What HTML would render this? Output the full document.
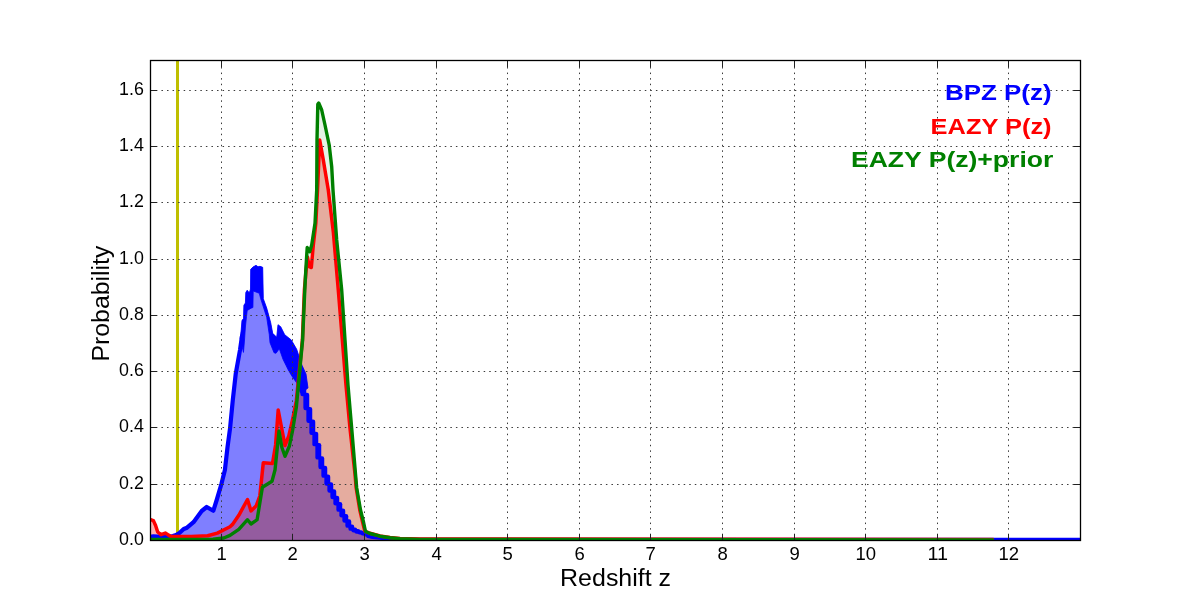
<!DOCTYPE html>
<html><head><meta charset="utf-8"><style>
html,body{margin:0;padding:0;background:#fff;}
svg{display:block;will-change:transform;}
text{font-family:"Liberation Sans",sans-serif;}
.t{opacity:0.999;}
</style></head><body>
<svg width="1200" height="600" viewBox="0 0 1200 600">
<defs><clipPath id="ax"><rect x="150" y="60" width="930" height="480.5"/></clipPath></defs>
<rect x="0" y="0" width="1200" height="600" fill="#fff"/>
<g clip-path="url(#ax)">
<line x1="177.5" y1="60" x2="177.5" y2="540" stroke="#bfbf00" stroke-width="3"/>
<path d="M150.0,537.0 L153.4,536.3 L158.0,536.5 L164.2,537.0 L168.0,536.5 L172.9,536.0 L176.0,535.0 L179.4,533.0 L183.7,529.0 L187.0,527.7 L193.5,522.2 L201.7,511.0 L206.7,507.0 L213.3,510.8 L216.7,500.0 L221.4,484.0 L224.9,470.0 L227.5,447.3 L230.1,428.0 L232.8,400.0 L235.8,373.3 L240.0,350.0 L240.2,338.0 L241.2,330.0 L242.0,320.2 L243.5,318.8 L243.9,305.2 L245.4,303.0 L245.8,292.5 L247.2,290.2 L249.3,293.0 L250.5,289.0 L250.7,269.3 L253.0,267.0 L256.0,265.3 L258.0,266.8 L260.0,266.3 L262.7,267.3 L263.3,298.7 L266.7,308.0 L270.7,322.7 L272.7,333.3 L276.7,337.3 L278.0,324.7 L280.7,326.7 L284.7,334.7 L291.3,340.0 L296.7,349.3 L302.0,365.3 L306.0,374.0 L308.0,388.0 L304.3,392.0 L306.5,403.0 L310.3,419.3 L313.7,433.0 L316.5,443.0 L318.5,454.0 L322.0,464.5 L323.5,470.0 L328.0,482.0 L331.3,490.0 L336.0,500.0 L341.2,511.0 L345.6,519.0 L350.3,527.0 L352.5,529.0 L358.0,531.8 L363.5,533.2 L372.0,536.6 L372.5,537.2 L385.0,538.5 L420.0,539.5 L1082.0,539.5 L1082.0,540.5 L150.0,540.5 Z" fill="#0000ff" fill-opacity="0.5"/>
<path d="M150.0,519.5 L153.4,520.6 L155.6,525.5 L157.7,532.0 L161.0,534.7 L165.3,533.1 L168.0,534.7 L170.7,536.5 L191.3,536.5 L207.6,535.8 L217.3,533.1 L226.0,528.7 L230.0,526.7 L232.5,524.4 L238.8,515.3 L247.5,499.5 L251.0,510.9 L256.3,505.7 L259.8,496.0 L263.3,462.8 L272.5,463.5 L275.6,445.0 L278.2,410.0 L281.3,426.3 L285.0,445.6 L288.8,436.0 L292.5,420.0 L296.3,401.0 L302.4,340.0 L304.4,290.0 L305.8,273.3 L307.5,257.0 L309.2,266.7 L311.3,267.5 L313.3,245.0 L315.8,223.3 L317.5,190.0 L319.7,140.0 L323.3,160.0 L328.3,190.0 L333.3,231.7 L338.3,290.0 L346.0,385.0 L350.0,428.3 L355.0,474.0 L356.2,488.0 L359.8,510.0 L362.6,522.0 L364.8,531.0 L370.0,533.3 L380.0,536.0 L390.0,537.6 L400.0,538.5 L420.0,539.0 L993.7,539.4 L993.7,540.5 L150.0,540.5 Z" fill="#ff0000" fill-opacity="0.3"/>
<path d="M150.0,539.5 L213.0,539.3 L223.8,538.0 L230.0,535.4 L238.8,529.3 L247.5,519.7 L251.0,524.0 L257.1,519.7 L262.4,487.3 L272.0,481.2 L275.0,470.0 L279.0,431.0 L281.9,447.5 L285.0,456.3 L289.4,446.0 L292.5,431.0 L296.3,407.5 L302.6,340.0 L304.8,290.0 L305.8,270.0 L307.2,247.5 L309.7,251.7 L311.7,245.0 L315.0,223.3 L316.7,190.0 L317.0,140.0 L317.8,104.2 L318.7,103.0 L321.7,110.0 L325.0,125.0 L329.2,145.0 L331.7,166.7 L333.0,190.0 L336.7,240.0 L341.7,290.0 L348.0,385.0 L351.7,428.3 L355.5,474.0 L356.7,488.0 L360.5,510.0 L363.5,522.0 L365.5,531.5 L370.0,533.5 L380.0,536.2 L390.0,537.8 L400.0,538.8 L420.0,539.5 L993.7,539.9 L993.7,540.5 L150.0,540.5 Z" fill="#008000" fill-opacity="0.1"/>
<g fill="none" stroke-linejoin="round" stroke-linecap="round">
<path d="M150.0,537.0 L153.4,536.3 L158.0,536.5 L164.2,537.0 L168.0,536.5 L172.9,536.0 L176.0,535.0 L179.4,533.0 L183.7,529.0 L187.0,527.7 L193.5,522.2 L201.7,511.0 L206.7,507.0 L213.3,510.8 L216.7,500.0 L221.4,484.0 L224.9,470.0 L227.5,447.3 L230.1,428.0 L232.8,400.0 L235.8,373.3 L240.0,350.0 L242.0,336.0" stroke="#0000ff" stroke-width="4.2"/>
<path d="M240.2,338.0 L241.2,330.0 L242.0,320.2 L243.5,318.8 L243.9,305.2 L245.4,303.0 L245.8,292.5 L247.2,290.2 L249.3,293.0 L250.5,289.0 L250.7,269.3 L253.0,267.0 L256.0,265.3 L258.0,266.8 L260.0,266.3 L262.7,267.3 L263.3,298.7 L266.7,308.0 L270.7,322.7 L272.7,333.3 L276.7,337.3 L278.0,324.7 L280.7,326.7 L284.7,334.7 L291.3,340.0 L296.7,349.3 L302.0,365.3 L306.0,374.0 L308.0,388.0 L300.3,392.7 L297.0,383.3 L292.3,376.7 L288.3,370.0 L283.0,359.3 L279.3,348.7 L276.0,353.3 L274.0,352.7 L270.0,342.7 L269.3,334.7 L266.7,317.3 L260.7,298.7 L259.3,293.3 L256.0,292.0 L253.2,291.0 L252.9,307.5 L251.0,308.2 L247.2,310.5 L246.5,316.5 L245.4,327.0 L244.5,340.0 L243.5,352.0 Z" fill="#0000ff" stroke="#0000ff" stroke-width="0.8"/>
<path d="M368.0,536.2 L372.5,537.2 L385.0,538.5 L420.0,539.5 L1082.0,539.5" stroke="#0000ff" stroke-width="3.6"/>
<g fill="#0000ff"><rect x="300.35" y="380.30" width="5.90" height="15.90" rx="2.2"/><rect x="303.35" y="392.80" width="5.90" height="17.48" rx="2.2"/><rect x="306.35" y="406.88" width="5.90" height="16.14" rx="2.2"/><rect x="309.35" y="419.61" width="5.90" height="15.44" rx="2.2"/><rect x="312.35" y="431.66" width="5.90" height="14.69" rx="2.2"/><rect x="315.35" y="442.95" width="5.90" height="16.65" rx="2.2"/><rect x="318.35" y="456.20" width="5.90" height="12.93" rx="2.2"/><rect x="321.35" y="465.73" width="5.90" height="12.10" rx="2.2"/><rect x="324.35" y="474.43" width="5.90" height="11.21" rx="2.2"/><rect x="327.35" y="482.24" width="5.90" height="10.52" rx="2.2"/><rect x="330.35" y="489.36" width="5.90" height="9.78" rx="2.2"/><rect x="333.35" y="495.75" width="5.90" height="9.76" rx="2.2"/><rect x="336.35" y="502.11" width="5.90" height="9.75" rx="2.2"/><rect x="339.35" y="508.45" width="5.90" height="8.97" rx="2.2"/><rect x="342.35" y="514.03" width="5.90" height="8.72" rx="2.2"/><rect x="345.35" y="519.34" width="5.90" height="8.51" rx="2.2"/><rect x="348.35" y="524.45" width="5.90" height="6.40" rx="2.2"/><rect x="351.35" y="527.45" width="5.90" height="4.93" rx="2.2"/><rect x="354.35" y="528.98" width="5.90" height="4.72" rx="2.2"/><rect x="357.35" y="530.30" width="5.90" height="4.16" rx="2.2"/><rect x="360.35" y="531.07" width="5.90" height="4.35" rx="2.2"/><rect x="363.35" y="532.02" width="5.90" height="4.60" rx="2.2"/><rect x="366.35" y="533.22" width="5.90" height="4.60" rx="2.2"/></g>
<path d="M150.0,519.5 L153.4,520.6 L155.6,525.5 L157.7,532.0 L161.0,534.7 L165.3,533.1 L168.0,534.7 L170.7,536.5 L191.3,536.5 L207.6,535.8 L217.3,533.1 L226.0,528.7 L230.0,526.7 L232.5,524.4 L238.8,515.3 L247.5,499.5 L251.0,510.9 L256.3,505.7 L259.8,496.0 L263.3,462.8 L272.5,463.5 L275.6,445.0 L278.2,410.0 L281.3,426.3 L285.0,445.6 L288.8,436.0 L292.5,420.0 L296.3,401.0 L302.4,340.0 L304.4,290.0 L305.8,273.3 L307.5,257.0 L309.2,266.7 L311.3,267.5 L313.3,245.0 L315.8,223.3 L317.5,190.0 L319.7,140.0 L323.3,160.0 L328.3,190.0 L333.3,231.7 L338.3,290.0 L346.0,385.0 L350.0,428.3 L355.0,474.0 L356.2,488.0 L359.8,510.0 L362.6,522.0 L364.8,531.0 L370.0,533.3 L380.0,536.0 L390.0,537.6 L400.0,538.5 L420.0,539.0 L993.7,539.4" stroke="#ff0000" stroke-width="3.5" stroke-linecap="butt"/>
<path d="M150.0,539.5 L213.0,539.3 L223.8,538.0 L230.0,535.4 L238.8,529.3 L247.5,519.7 L251.0,524.0 L257.1,519.7 L262.4,487.3 L272.0,481.2 L275.0,470.0 L279.0,431.0 L281.9,447.5 L285.0,456.3 L289.4,446.0 L292.5,431.0 L296.3,407.5 L302.6,340.0 L304.8,290.0 L305.8,270.0 L307.2,247.5 L309.7,251.7 L311.7,245.0 L315.0,223.3 L316.7,190.0 L317.0,140.0 L317.8,104.2 L318.7,103.0 L321.7,110.0 L325.0,125.0 L329.2,145.0 L331.7,166.7 L333.0,190.0 L336.7,240.0 L341.7,290.0 L348.0,385.0 L351.7,428.3 L355.5,474.0 L356.7,488.0 L360.5,510.0 L363.5,522.0 L365.5,531.5 L370.0,533.5 L380.0,536.2 L390.0,537.8 L400.0,538.8 L420.0,539.5 L993.7,539.9" stroke="#008000" stroke-width="3.4" stroke-linecap="butt"/>
</g>
</g>
<path d="M221.5,540L221.5,60M292.5,540L292.5,60M364.5,540L364.5,60M436.5,540L436.5,60M507.5,540L507.5,60M579.5,540L579.5,60M650.5,540L650.5,60M722.5,540L722.5,60M794.5,540L794.5,60M865.5,540L865.5,60M937.5,540L937.5,60M1008.5,540L1008.5,60" stroke="#3a3a3a" stroke-width="1" stroke-dasharray="1.5 4.0556" stroke-dashoffset="0.75" fill="none"/>
<path d="M150,484.5L1080,484.5M150,427.5L1080,427.5M150,371.5L1080,371.5M150,315.5L1080,315.5M150,259.5L1080,259.5M150,202.5L1080,202.5M150,146.5L1080,146.5M150,90.5L1080,90.5" stroke="#3a3a3a" stroke-width="1" stroke-dasharray="1.5 4.0556" stroke-dashoffset="-0.35" fill="none"/>
<path d="M221.5,540V534M221.5,61V67M292.5,540V534M292.5,61V67M364.5,540V534M364.5,61V67M436.5,540V534M436.5,61V67M507.5,540V534M507.5,61V67M579.5,540V534M579.5,61V67M650.5,540V534M650.5,61V67M722.5,540V534M722.5,61V67M794.5,540V534M794.5,61V67M865.5,540V534M865.5,61V67M937.5,540V534M937.5,61V67M1008.5,540V534M1008.5,61V67M151,540.5H157M1080,540.5H1074M151,484.5H157M1080,484.5H1074M151,427.5H157M1080,427.5H1074M151,371.5H157M1080,371.5H1074M151,315.5H157M1080,315.5H1074M151,259.5H157M1080,259.5H1074M151,202.5H157M1080,202.5H1074M151,146.5H157M1080,146.5H1074M151,90.5H157M1080,90.5H1074" stroke="#222" stroke-width="1" fill="none"/>
<rect x="150.5" y="60.5" width="930" height="480" fill="none" stroke="#000" stroke-width="1.3"/>
<g font-size="17.8" fill="#000">
<text x="221.7" y="560" text-anchor="middle" textLength="10.3" lengthAdjust="spacingAndGlyphs">1</text>
<text x="292.7" y="560" text-anchor="middle" textLength="10.3" lengthAdjust="spacingAndGlyphs">2</text>
<text x="364.7" y="560" text-anchor="middle" textLength="10.3" lengthAdjust="spacingAndGlyphs">3</text>
<text x="436.7" y="560" text-anchor="middle" textLength="10.3" lengthAdjust="spacingAndGlyphs">4</text>
<text x="507.7" y="560" text-anchor="middle" textLength="10.3" lengthAdjust="spacingAndGlyphs">5</text>
<text x="579.7" y="560" text-anchor="middle" textLength="10.3" lengthAdjust="spacingAndGlyphs">6</text>
<text x="650.7" y="560" text-anchor="middle" textLength="10.3" lengthAdjust="spacingAndGlyphs">7</text>
<text x="722.7" y="560" text-anchor="middle" textLength="10.3" lengthAdjust="spacingAndGlyphs">8</text>
<text x="794.7" y="560" text-anchor="middle" textLength="10.3" lengthAdjust="spacingAndGlyphs">9</text>
<text x="865.7" y="560" text-anchor="middle" textLength="20.6" lengthAdjust="spacingAndGlyphs">10</text>
<text x="937.7" y="560" text-anchor="middle" textLength="20.6" lengthAdjust="spacingAndGlyphs">11</text>
<text x="1008.7" y="560" text-anchor="middle" textLength="20.6" lengthAdjust="spacingAndGlyphs">12</text>
<text x="143.9" y="545.0" text-anchor="end" textLength="24.8" lengthAdjust="spacingAndGlyphs">0.0</text>
<text x="143.9" y="489.0" text-anchor="end" textLength="24.8" lengthAdjust="spacingAndGlyphs">0.2</text>
<text x="143.9" y="432.0" text-anchor="end" textLength="24.8" lengthAdjust="spacingAndGlyphs">0.4</text>
<text x="143.9" y="376.0" text-anchor="end" textLength="24.8" lengthAdjust="spacingAndGlyphs">0.6</text>
<text x="143.9" y="320.0" text-anchor="end" textLength="24.8" lengthAdjust="spacingAndGlyphs">0.8</text>
<text x="143.9" y="264.0" text-anchor="end" textLength="24.8" lengthAdjust="spacingAndGlyphs">1.0</text>
<text x="143.9" y="207.0" text-anchor="end" textLength="24.8" lengthAdjust="spacingAndGlyphs">1.2</text>
<text x="143.9" y="151.0" text-anchor="end" textLength="24.8" lengthAdjust="spacingAndGlyphs">1.4</text>
<text x="143.9" y="95.0" text-anchor="end" textLength="24.8" lengthAdjust="spacingAndGlyphs">1.6</text>
</g>
<text x="615.6" y="586" font-size="23" text-anchor="middle" textLength="111" lengthAdjust="spacingAndGlyphs">Redshift z</text>
<text transform="translate(109,303.6) rotate(-90)" x="0" y="0" font-size="23" text-anchor="middle" textLength="116" lengthAdjust="spacingAndGlyphs">Probability</text>
<g font-size="22.6" font-weight="bold" text-anchor="end">
<text x="1051.6" y="100" fill="#0000ff" textLength="106.6" lengthAdjust="spacingAndGlyphs">BPZ P(z)</text>
<text x="1051.6" y="134" fill="#ff0000" textLength="121" lengthAdjust="spacingAndGlyphs">EAZY P(z)</text>
<text x="1053.3" y="167" fill="#008000" textLength="202.3" lengthAdjust="spacingAndGlyphs">EAZY P(z)+prior</text>
</g>
</svg>
</body></html>
